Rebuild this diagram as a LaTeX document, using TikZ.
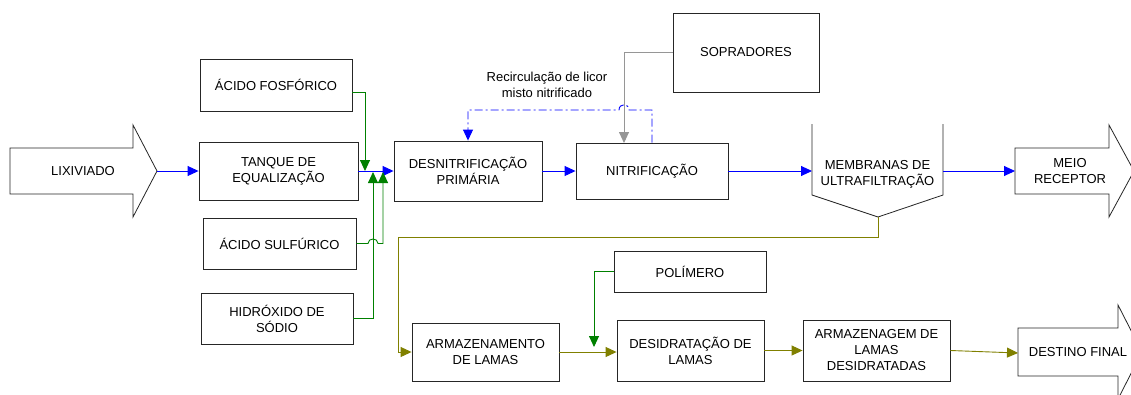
\documentclass[tikz,border=0pt]{standalone}
\usepackage{fontspec}
\setmainfont{Liberation Sans}
\usetikzlibrary{arrows.meta,calc}
\definecolor{flowblue}{RGB}{0,0,255}
\definecolor{chemgreen}{RGB}{0,128,0}
\definecolor{sludge}{RGB}{128,128,0}
\definecolor{airgray}{RGB}{150,150,150}
\begin{document}
\begin{tikzpicture}[x=1pt,y=-1pt,
  font=\fontsize{13}{16}\selectfont,
  box/.style={draw=black!85, line width=0.9pt, inner sep=0pt, align=center},
  plain/.style={inner sep=0pt, align=center},
  bigarrow/.style={draw=black!85, line width=0.8pt},
  tipend/.style={-{Triangle[length=11pt,width=10pt]}},
  blueflow/.style={flowblue, line width=0.9pt, tipend},
  greenflow/.style={chemgreen, line width=0.9pt, tipend},
  sludgeflow/.style={sludge, line width=0.9pt, tipend},
  airflow/.style={airgray, line width=0.9pt, tipend},
  recirc/.style={flowblue, line width=0.9pt, tipend, dash pattern=on 8pt off 3pt on 2pt off 3pt}
]
\useasboundingbox (0,0) rectangle (1131,394);
\fill[white] (0,0) rectangle (1131,394);

% big arrow shapes
\draw[bigarrow] (10,148) -- (133,148) -- (133,125) -- (157,171) -- (133,217) -- (133,194) -- (10,194) -- cycle;
\node[plain] (lix) at (83,171) {LIXIVIADO};
\coordinate (lixtip) at (157,171);

\draw[bigarrow] (1015,148) -- (1109,148) -- (1109,125) -- (1134,171) -- (1109,217) -- (1109,194) -- (1015,194) -- cycle;
\node[plain] (meio) at (1070,171) {MEIO\\RECEPTOR};
\coordinate (meioin) at (1015,171);

\draw[bigarrow] (1018,328) -- (1118,328) -- (1118,305) -- (1142,352) -- (1118,399) -- (1118,376) -- (1018,376) -- cycle;
\node[plain] (dest) at (1078,352) {DESTINO FINAL};
\coordinate (destin) at (1018,353);

% membranes
\draw[bigarrow] (812,124) -- (812,195) -- (878,217) -- (943,195) -- (943,124);
\node[plain] (memb) at (877.5,174) {MEMBRANAS DE\\ULTRAFILTRAÇÃO};
\coordinate (memin) at (812,171);
\coordinate (memout) at (943,171);
\coordinate (membot) at (878,217);

% boxes
\node[box, minimum width=152pt, minimum height=52pt] (fos) at (276,85) {ÁCIDO FOSFÓRICO};
\node[box, minimum width=159pt, minimum height=58pt] (tanque) at (278.5,171) {TANQUE DE\\EQUALIZAÇÃO};
\node[box, minimum width=153pt, minimum height=51pt] (sulf) at (279.5,243.5) {ÁCIDO SULFÚRICO};
\node[box, minimum width=152pt, minimum height=51pt] (hidr) at (277,318.5) {HIDRÓXIDO DE\\SÓDIO};
\node[box, minimum width=148pt, minimum height=60pt] (desn) at (468,171) {DESNITRIFICAÇÃO\\PRIMÁRIA};
\node[box, minimum width=152pt, minimum height=56pt] (nitr) at (652,171) {NITRIFICAÇÃO};
\node[box, minimum width=146pt, minimum height=79pt] (sopr) at (746,52.5) {SOPRADORES};
\node[box, minimum width=147pt, minimum height=58pt] (arm) at (485.5,352) {ARMAZENAMENTO\\DE LAMAS};
\node[box, minimum width=152pt, minimum height=41pt] (pol) at (690,271.5) {POLÍMERO};
\node[box, minimum width=147pt, minimum height=61pt] (desi) at (690.5,350.5) {DESIDRATAÇÃO DE\\LAMAS};
\node[box, minimum width=147pt, minimum height=61pt] (armg) at (876.5,350.5) {ARMAZENAGEM DE\\LAMAS\\DESIDRATADAS};

\node[plain] (reclab) at (547,85) {Recirculação de licor\\misto nitrificado};

% dosing points
\coordinate (j1) at (365,171);
\coordinate (j2) at (373,172);
\coordinate (j3) at (383,172);
\coordinate (airin) at (624,143);
\coordinate (polin) at (594,347);

% main liquid flow
\draw[blueflow] (lixtip) -- (tanque.west);
\draw[blueflow] (tanque.east) -- (desn.west);
\draw[blueflow] (desn.east) -- (nitr.west);
\draw[blueflow] (nitr.east) -- (memin);
\draw[blueflow] (memout) -- (meioin);

% chemicals
\draw[greenflow] ($(fos.east)+(0,7)$) -| (j1);
\draw[greenflow] (sulf.east) -- (368,243.5) .. controls (368,237.5) and (378,237.5) .. (378,243.5) -| (j3);
\draw[greenflow] (hidr.east) -| (j2);

% air
\draw[airflow] (sopr.west) -| (airin);

% recirculation
\draw[recirc] (nitr.north) -- (652,110) -- (629,110) .. controls (629,103) and (619,103) .. (619,110) -- (468,110) -- (desn.north);

% sludge line
\draw[sludgeflow] (membot) -- (878,237) -- (398,237) |- (arm.west);
\draw[sludgeflow] (arm.east) -- (desi.west |- arm.east);
\draw[greenflow] (pol.west) -| (polin);
\draw[sludgeflow] (desi.east) -- (armg.west);
\draw[sludgeflow] (armg.east) -- (destin);
\end{tikzpicture}
\end{document}
